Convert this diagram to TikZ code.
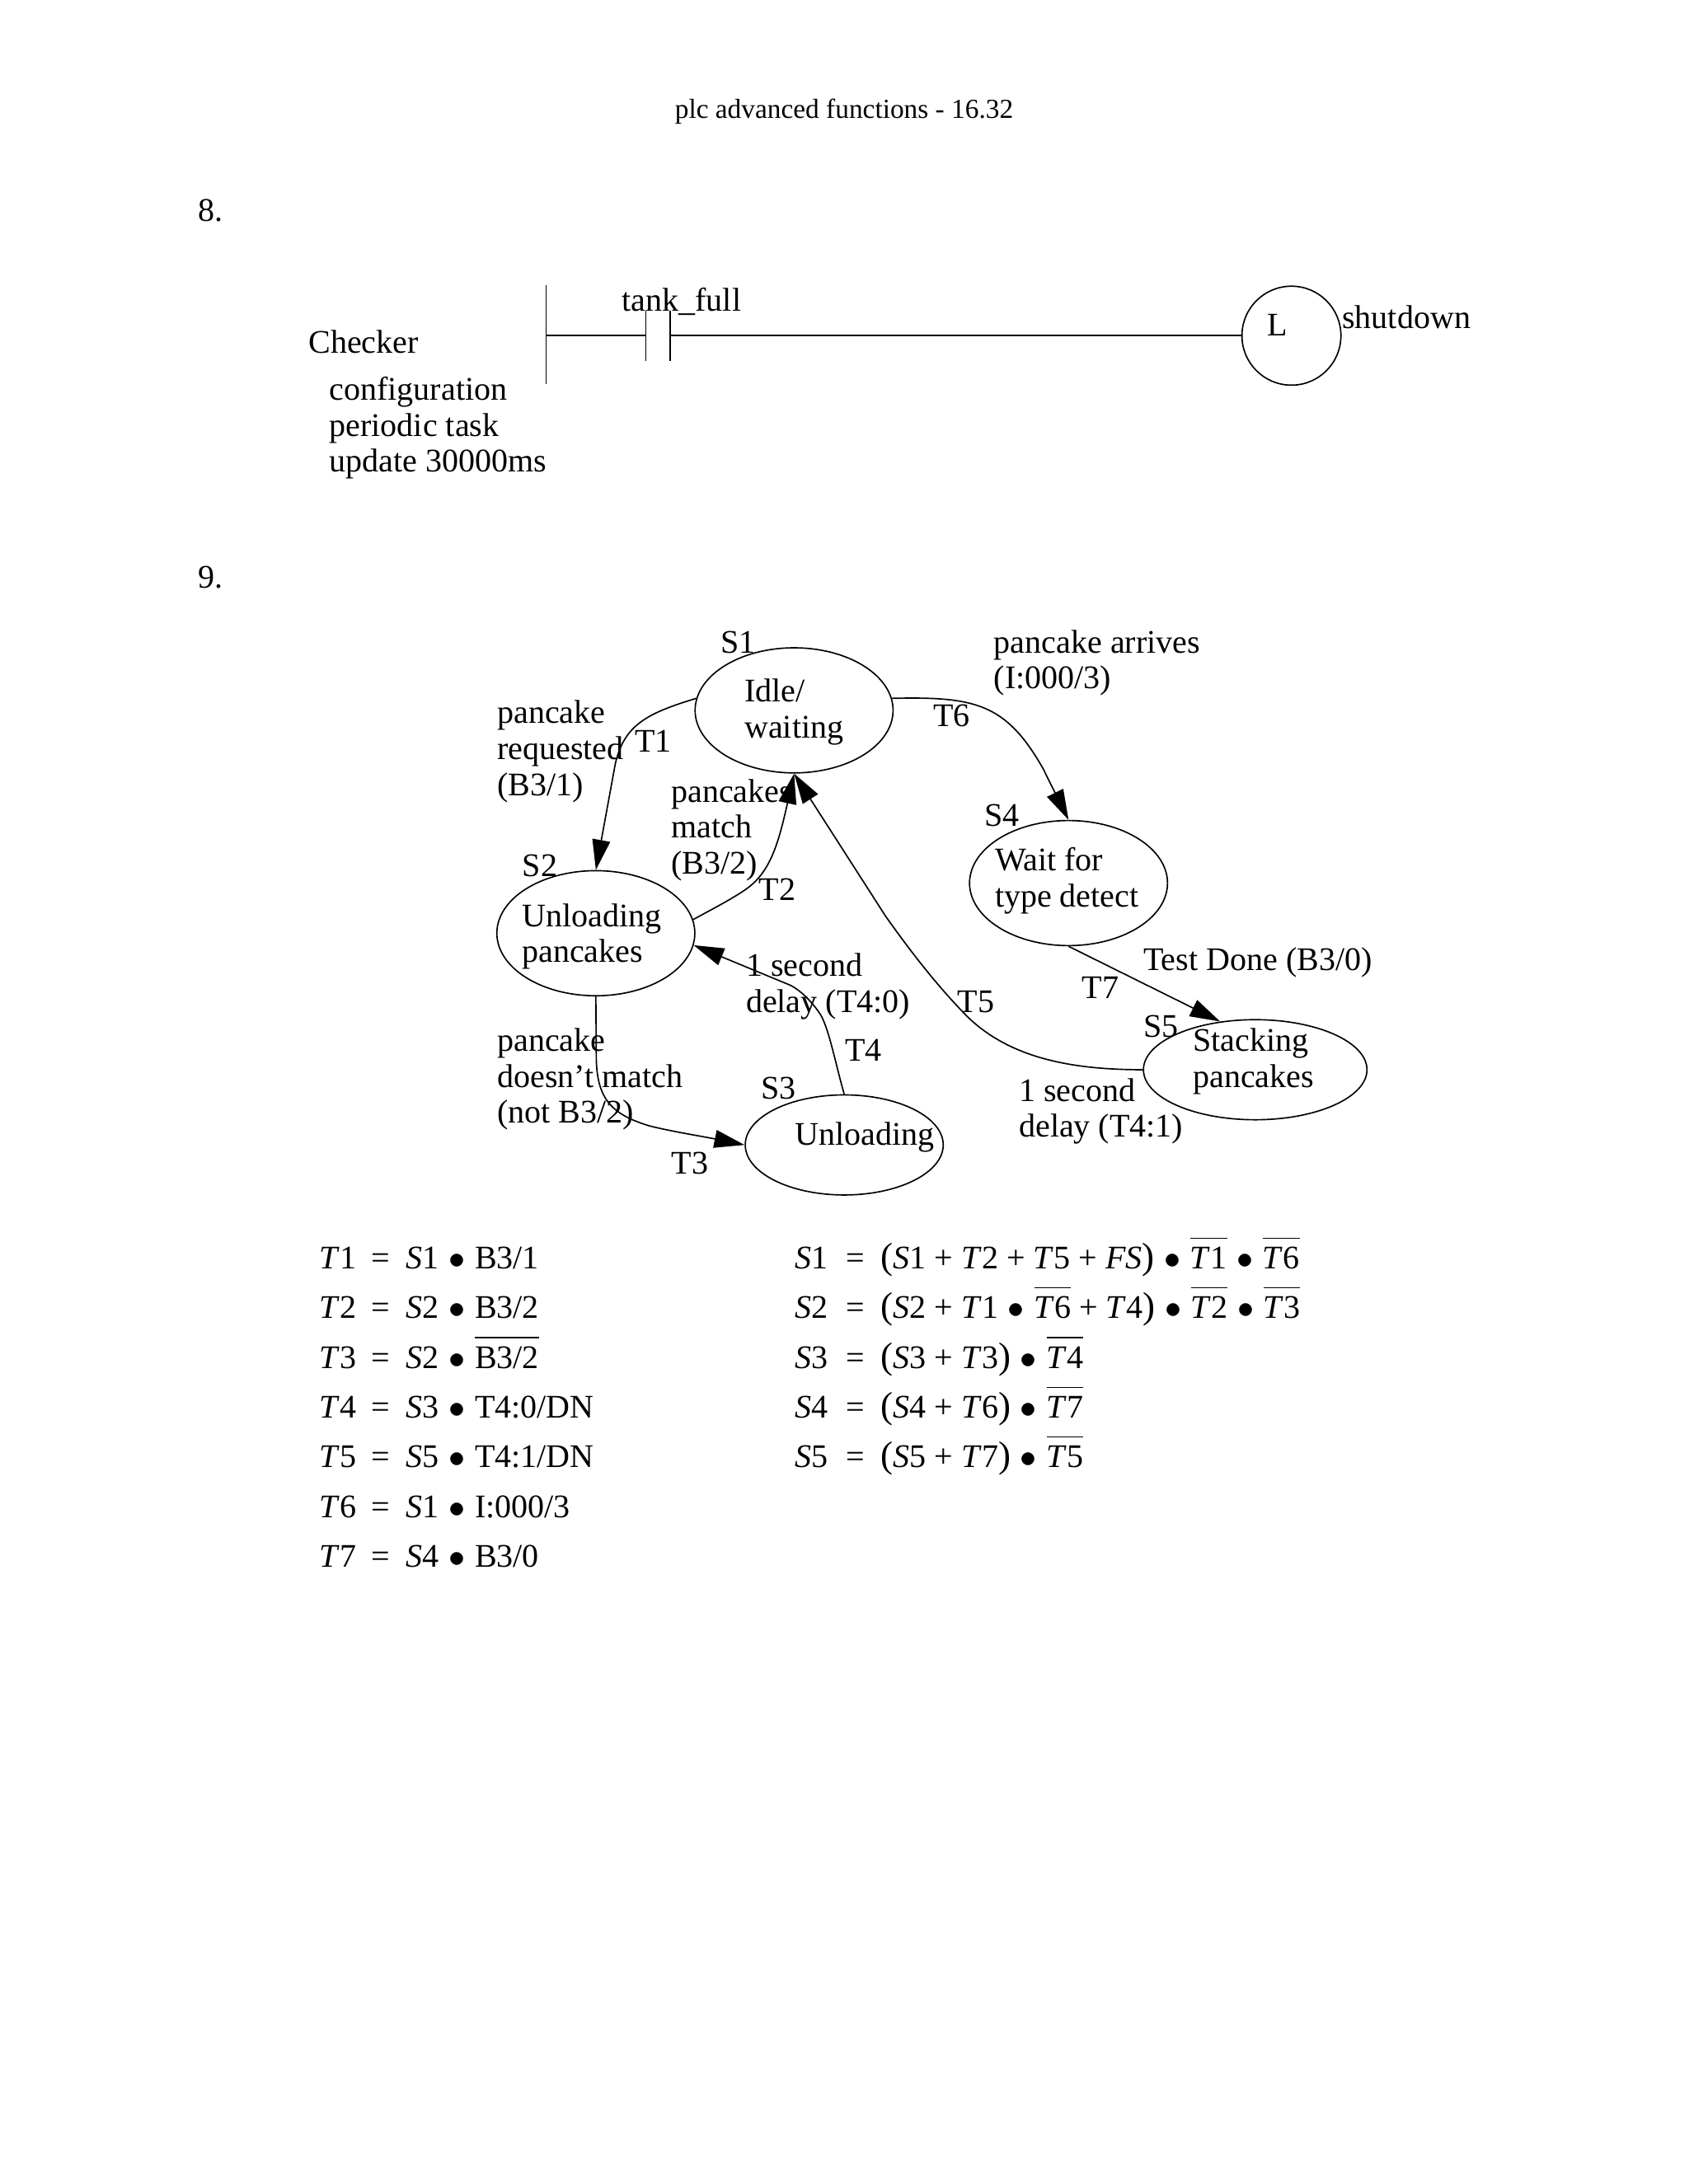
\documentclass[tikz,border=0pt]{standalone}
\usepackage{fontspec}
\setmainfont{Liberation Serif}
\usetikzlibrary{arrows.meta, shapes.geometric}

\newcommand{\tv}[1]{\textit{T}#1}
\newcommand{\sv}[1]{\textit{S}#1}
\newcommand{\nb}[1]{$\overline{\mbox{\rule{0pt}{9.8pt}#1}}$}
\newcommand{\andop}{\hspace{3.5pt}$\bullet$\hspace{3.5pt}}
\newcommand{\orop}{\hspace{3pt}+\hspace{3pt}}
\newcommand{\lp}{{\fontsize{13.5}{13}\selectfont(}}
\newcommand{\rp}{{\fontsize{13.5}{13}\selectfont)}}

\begin{document}
\begin{tikzpicture}[
    x=0.017813cm, y=-0.017813cm,
    line width=0.5pt,
    lbl/.style={anchor=base west, inner sep=0pt, align=left, font=\fontsize{12}{13.1}\selectfont},
    state/.style={ellipse, draw, inner sep=-8pt, minimum width=72pt, minimum height=45.5pt, text height=21.5pt, align=left, font=\fontsize{12}{13.1}\selectfont},
    coil/.style={circle, draw, inner sep=0pt, minimum size=36pt, font=\fontsize{12}{13.1}\selectfont},
    arr/.style={-{Triangle[length=11pt, width=6.5pt]}},
]
\useasboundingbox (0,0) rectangle (1212,1568);

\node[lbl, font=\fontsize{10}{12}\selectfont] (header) at (484,85) {plc advanced functions - 16.32};
\node[lbl] (num8) at (142,159) {8.};
\node[lbl] (num9) at (142,422) {9.};

% ladder rung
\coordinate (railt) at (392,205);
\coordinate (railb) at (392,276);
\coordinate (rung) at (392,241);
\coordinate (cona) at (463.5,241);
\coordinate (conat) at (463.5,223);
\coordinate (conab) at (463.5,259);
\coordinate (conb) at (481,241);
\coordinate (conbt) at (481,223);
\coordinate (conbb) at (481,259);
\node[coil, text height=8pt, text depth=8pt] (latch) at (927,241) {L\hspace*{10pt}};
\draw (railt) -- (railb);
\draw (rung) -- (cona);
\draw (conat) -- (conab);
\draw (conbt) -- (conbb);
\draw (conb) -- (latch);

\node[lbl] (tankfull) at (446,223.5) {tank\_full};
\node[lbl] (shutdown) at (963,236) {shutdown};
\node[lbl] (checker) at (221,253.5) {Checker};
\node[lbl] (config) at (236,339) {configuration\\periodic task\\update 30000ms};

% states
\node[state, text depth=1.3pt] (s1) at (570,510) {Idle/\\waiting};
\node[state, text depth=0.3pt] (s2) at (427.7,670) {Unloading\hspace*{3pt}\\pancakes};
\node[state, minimum height=36.4pt, text height=8pt, text depth=8pt] (s3) at (606,822) {\hspace*{15pt}Unloading};
\node[state, text depth=4.3pt] (s4) at (767,634) {Wait for\\type detect\hspace*{1.2pt}};
\node[state, minimum width=81.3pt, minimum height=36.4pt, text depth=8.7pt] (s5) at (901,768) {Stacking\\pancakes\hspace*{1.2pt}};

\draw[arr] (s1.173) .. controls (465,512) and (448,520) .. (441.6,548.7) -- (s2.90);
\draw[arr] (s2.8) .. controls (522,647) and (535,640) .. (542,633) .. controls (555,620) and (560,600) .. (s1.270);
\draw[arr] (s2.270) -- (428,758) .. controls (428,790) and (440,800) .. (465,808) .. controls (480,812) and (505,816) .. (s3.180);
\draw[arr] (s3.90) .. controls (600,765) and (595,738) .. (588.7,728) .. controls (580,715) and (570,708) .. (565,706.4) -- (s2.-7);
\draw[arr] (s5.180) .. controls (770,768) and (725,760) .. (694,729.5) .. controls (670,705) and (650,678) .. (635.5,657.5) -- (s1.270);
\draw[arr] (s1.7) .. controls (700,500) and (722,505) .. (748.6,551.6) -- (s4.90);
\draw[arr] (s4.270) -- (s5.126);

% state and transition labels
\node[lbl] (ls1) at (517,468.7) {S1};
\node[lbl] (ls2) at (374.5,629) {S2};
\node[lbl] (ls3) at (546,789.3) {S3};
\node[lbl] (ls4) at (706,593) {S4};
\node[lbl] (ls5) at (820.3,744.5) {S5};
\node[lbl] (lt1) at (455.4,539.8) {T1};
\node[lbl] (lt2) at (544.3,646.6) {T2};
\node[lbl] (lt3) at (481.6,842.7) {T3};
\node[lbl] (lt4) at (606.3,762) {T4};
\node[lbl] (lt5) at (687,727) {T5};
\node[lbl] (lt6) at (669.3,521.6) {T6};
\node[lbl] (lt7) at (776.3,717) {T7};
\node[lbl] (requested) at (356.5,571) {pancake\\requested\\(B3/1)};
\node[lbl] (match) at (481.3,627.6) {pancakes\\match\\(B3/2)};
\node[lbl] (delaya) at (535,727) {1 second\\delay (T4:0)};
\node[lbl] (nomatch) at (356.5,806.4) {pancake\\doesn’t match\\(not B3/2)};
\node[lbl] (arrives) at (713,494.5) {pancake arrives\\(I:000/3)};
\node[lbl] (testdone) at (820.3,697) {Test Done (B3/0)};
\node[lbl] (delayb) at (731,816.5) {1 second\\delay (T4:1)};

% equations
\foreach \n/\s/\c [count=\r from 0] in {1/1/{B3/1}, 2/2/{B3/2}, 3/2/{\nb{B3/2}}, 4/3/{T4:0/DN}, 5/5/{T4:1/DN}, 6/1/{I:000/3}, 7/4/{B3/0}} {
    \node[lbl] (tl\n) at (229,911+35.7*\r) {\tv{\n}};
    \node[lbl] (te\n) at (266,911+35.7*\r) {=};
    \node[lbl] (tr\n) at (291,911+35.7*\r) {\sv{\s}\andop\c};
}
\foreach \n/\c [count=\r from 0] in {
    1/{\lp\sv{1}\orop\tv{2}\orop\tv{5}\orop\textit{FS}\rp\andop\nb{\tv{1}}\andop\nb{\tv{6}}},
    2/{\lp\sv{2}\orop\tv{1}\andop\nb{\tv{6}}\orop\tv{4}\rp\andop\nb{\tv{2}}\andop\nb{\tv{3}}},
    3/{\lp\sv{3}\orop\tv{3}\rp\andop\nb{\tv{4}}},
    4/{\lp\sv{4}\orop\tv{6}\rp\andop\nb{\tv{7}}},
    5/{\lp\sv{5}\orop\tv{7}\rp\andop\nb{\tv{5}}}} {
    \node[lbl] (sl\n) at (570,911+35.7*\r) {\sv{\n}};
    \node[lbl] (se\n) at (607,911+35.7*\r) {=};
    \node[lbl] (sr\n) at (632,911+35.7*\r) {\c};
}

\end{tikzpicture}
\end{document}
